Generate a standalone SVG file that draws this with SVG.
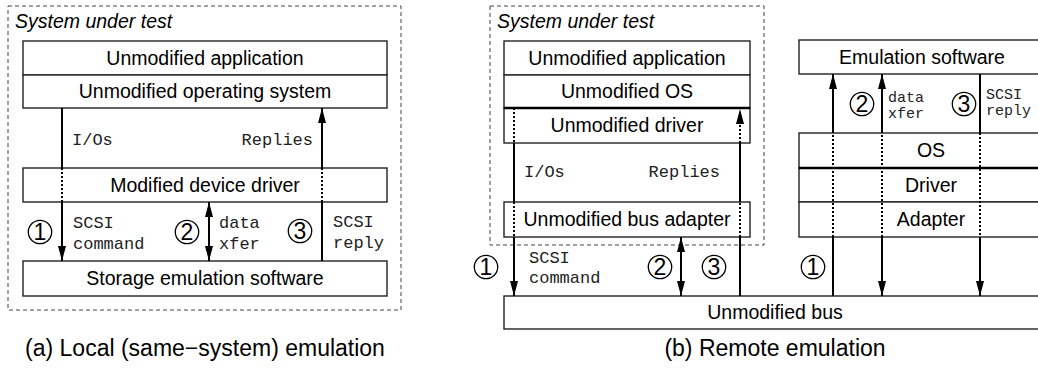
<svg xmlns="http://www.w3.org/2000/svg" width="1038" height="374" viewBox="0 0 1038 374">
<style>
.box{fill:#fff;stroke:#222;stroke-width:1.4}
.thick{stroke:#000;stroke-width:2.5}
.dash{fill:none;stroke:#444;stroke-width:1;stroke-dasharray:4 3}
.lbl{font-family:"Liberation Sans",Arial,sans-serif;font-size:19.5px;fill:#000;text-anchor:middle}
.it{font-family:"Liberation Sans",Arial,sans-serif;font-size:19.5px;font-style:italic;fill:#000}
.cap{font-family:"Liberation Sans",Arial,sans-serif;font-size:23px;fill:#000;text-anchor:middle}
.mono{font-family:"Liberation Mono","Courier New",monospace;font-size:17px;fill:#222}
.mono.sm{font-size:15px}
.num{font-family:"Liberation Sans",Arial,sans-serif;font-size:23px;fill:#000;text-anchor:middle}
.circ{fill:none;stroke:#000;stroke-width:1.3}
.sl{stroke:#000;stroke-width:2;fill:none}
.dl{stroke:#000;stroke-width:2;fill:none;stroke-dasharray:2 2}
</style>
<defs>
<marker id="ah2" viewBox="0 0 15 8" refX="15" refY="4" markerWidth="15" markerHeight="8" orient="auto-start-reverse" markerUnits="userSpaceOnUse">
<path d="M0,0 L15,4 L0,8 z" fill="#000"/>
</marker>
</defs>

<!-- Left panel -->
<g id="sut-left">
<rect class="dash" x="8" y="6" width="393" height="304"/>
<text class="it" x="15" y="28">System under test</text>
</g>
<g id="app-left"><rect class="box" x="23" y="41" width="364" height="34"/><text class="lbl" x="205" y="65">Unmodified application</text></g>
<g id="os-left"><rect class="box" x="23" y="75" width="364" height="33"/><text class="lbl" x="205" y="98">Unmodified operating system</text></g>
<g id="driver-left"><rect class="box" x="23" y="168" width="364" height="34"/><text class="lbl" x="205" y="192">Modified device driver</text></g>
<g id="storage-left"><rect class="box" x="23" y="261" width="364" height="35"/><text class="lbl" x="205" y="285">Storage emulation software</text></g>
<text class="cap" x="205" y="356">(a) Local (same−system) emulation</text>

<!-- Right panel -->
<g id="sut-right">
<rect class="dash" x="490" y="6" width="274" height="239"/>
<text class="it" x="497" y="28">System under test</text>
</g>
<g id="app-right"><rect class="box" x="504" y="41" width="246" height="34"/><text class="lbl" x="627" y="65">Unmodified application</text></g>
<g id="os-right"><rect class="box" x="504" y="75" width="246" height="33"/><text class="lbl" x="627" y="98">Unmodified OS</text></g>
<g id="driver-right"><rect class="box" x="504" y="108" width="246" height="35"/><text class="lbl" x="627" y="132">Unmodified driver</text></g>
<g id="adapter-right"><rect class="box" x="504" y="202" width="246" height="35"/><text class="lbl" x="627" y="226">Unmodified bus adapter</text></g>
<g id="bus"><rect class="box" x="504" y="296" width="545" height="33"/><text class="lbl" x="775" y="319">Unmodified bus</text></g>
<g id="emu"><rect class="box" x="799" y="40" width="250" height="34"/><text class="lbl" x="922" y="64">Emulation software</text></g>
<g id="os-emu"><rect class="box" x="799" y="133" width="250" height="35"/><text class="lbl" x="931" y="157">OS</text></g>
<g id="driver-emu"><rect class="box" x="799" y="168" width="250" height="34"/><text class="lbl" x="931" y="192">Driver</text></g>
<g id="adapter-emu"><rect class="box" x="799" y="202" width="250" height="35"/><text class="lbl" x="931" y="226">Adapter</text></g>
<line class="thick" x1="504" y1="108" x2="750" y2="108"/>
<line class="thick" x1="799" y1="168" x2="1040" y2="168"/>
<text class="cap" x="775" y="356">(b) Remote emulation</text>

<g id="connectors">
<!-- left -->
<line class="sl" x1="62" y1="108" x2="62" y2="168"/>
<line class="dl" x1="62" y1="168" x2="62" y2="202"/>
<line class="sl" x1="62" y1="202" x2="62" y2="261" marker-end="url(#ah2)"/>
<line class="sl" x1="322" y1="261" x2="322" y2="202"/>
<line class="dl" x1="322" y1="202" x2="322" y2="168"/>
<line class="sl" x1="322" y1="168" x2="322" y2="108" marker-end="url(#ah2)"/>
<line class="sl" x1="209" y1="202" x2="209" y2="261" marker-start="url(#ah2)" marker-end="url(#ah2)"/>
<!-- right SUT -->
<line class="dl" x1="514" y1="108" x2="514" y2="143"/>
<line class="sl" x1="514" y1="143" x2="514" y2="202"/>
<line class="dl" x1="514" y1="202" x2="514" y2="237"/>
<line class="sl" x1="514" y1="237" x2="514" y2="296" marker-end="url(#ah2)"/>
<line class="sl" x1="740" y1="296" x2="740" y2="237"/>
<line class="dl" x1="740" y1="237" x2="740" y2="202"/>
<line class="sl" x1="740" y1="202" x2="740" y2="143"/>
<line class="dl" x1="740" y1="143" x2="740" y2="123"/>
<path d="M736,124 L740,109 L744,124 z" fill="#000"/>
<line class="sl" x1="681" y1="237" x2="681" y2="296" marker-start="url(#ah2)" marker-end="url(#ah2)"/>
<!-- right emulator -->
<line class="sl" x1="833" y1="296" x2="833" y2="237"/>
<line class="dl" x1="833" y1="237" x2="833" y2="133"/>
<line class="sl" x1="833" y1="133" x2="833" y2="74" marker-end="url(#ah2)"/>
<line class="sl" x1="882" y1="237" x2="882" y2="296" marker-end="url(#ah2)"/>
<line class="dl" x1="882" y1="237" x2="882" y2="133"/>
<line class="sl" x1="882" y1="133" x2="882" y2="74" marker-end="url(#ah2)"/>
<line class="sl" x1="980" y1="74" x2="980" y2="133"/>
<line class="dl" x1="980" y1="133" x2="980" y2="237"/>
<line class="sl" x1="980" y1="237" x2="980" y2="296" marker-end="url(#ah2)"/>
</g>

<g id="labels">
<text class="mono" x="72" y="145">I/Os</text>
<text class="mono" x="313" y="145" text-anchor="end">Replies</text>
<text class="mono" x="73" y="228">SCSI</text><text class="mono" x="73" y="249">command</text>
<text class="mono" x="219" y="228">data</text><text class="mono" x="219" y="249">xfer</text>
<text class="mono" x="333" y="227">SCSI</text><text class="mono" x="333" y="248">reply</text>
<text class="mono" x="524" y="177">I/Os</text>
<text class="mono" x="720" y="177" text-anchor="end">Replies</text>
<text class="mono" x="529" y="263">SCSI</text><text class="mono" x="529" y="283">command</text>
<text class="mono sm" x="888" y="102">data</text><text class="mono sm" x="888" y="118">xfer</text>
<text class="mono sm" x="986" y="99">SCSI</text><text class="mono sm" x="986" y="115">reply</text>
</g>

<g id="circles">
<circle class="circ" cx="40" cy="232" r="11.7"/><text class="num" x="40" y="240">1</text>
<circle class="circ" cx="187" cy="232" r="11.7"/><text class="num" x="187" y="240">2</text>
<circle class="circ" cx="300" cy="231" r="11.7"/><text class="num" x="300" y="239">3</text>
<circle class="circ" cx="486" cy="267" r="11.7"/><text class="num" x="486" y="275">1</text>
<circle class="circ" cx="660" cy="267" r="11.7"/><text class="num" x="660" y="275">2</text>
<circle class="circ" cx="714" cy="267" r="11.7"/><text class="num" x="714" y="275">3</text>
<circle class="circ" cx="813" cy="267" r="11.7"/><text class="num" x="813" y="275">1</text>
<circle class="circ" cx="862" cy="104" r="11.7"/><text class="num" x="862" y="112">2</text>
<circle class="circ" cx="964" cy="104" r="11.7"/><text class="num" x="964" y="112">3</text>
</g>
</svg>
